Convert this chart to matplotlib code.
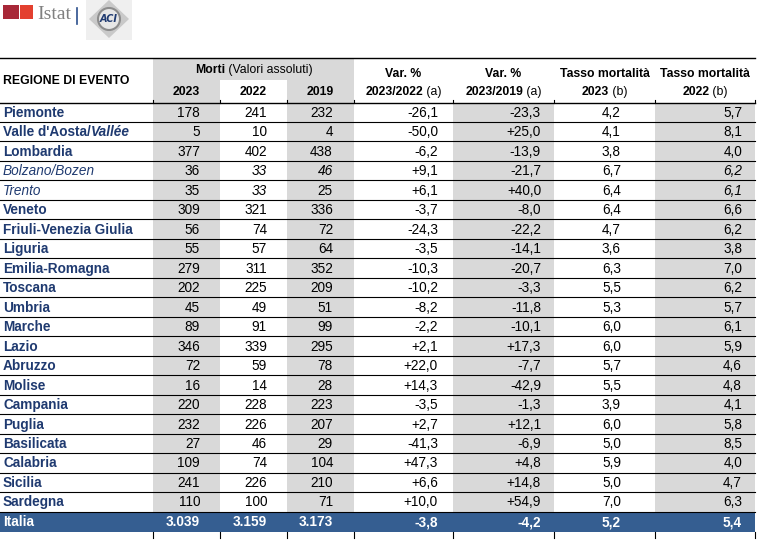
import matplotlib.pyplot as plt
from matplotlib.patches import Rectangle, Polygon, Circle

plt.rcParams['font.family'] = ['Liberation Sans Narrow', 'Liberation Sans', 'DejaVu Sans']

# dati
regioni = ['Piemonte', "Valle d'Aosta/Vallée", 'Lombardia', 'Bolzano/Bozen', 'Trento',
           'Veneto', 'Friuli-Venezia Giulia', 'Liguria', 'Emilia-Romagna', 'Toscana',
           'Umbria', 'Marche', 'Lazio', 'Abruzzo', 'Molise', 'Campania', 'Puglia',
           'Basilicata', 'Calabria', 'Sicilia', 'Sardegna']
morti_2023 = [178, 5, 377, 36, 35, 309, 56, 55, 279, 202, 45, 89, 346, 72, 16, 220, 232, 27, 109, 241, 110]
morti_2022 = [241, 10, 402, 33, 33, 321, 74, 57, 311, 225, 49, 91, 339, 59, 14, 228, 226, 46, 74, 226, 100]
morti_2019 = [232, 4, 438, 46, 25, 336, 72, 64, 352, 209, 51, 99, 295, 78, 28, 223, 207, 29, 104, 210, 71]
var_2022 = [-26.1, -50.0, -6.2, 9.1, 6.1, -3.7, -24.3, -3.5, -10.3, -10.2, -8.2, -2.2, 2.1, 22.0,
            14.3, -3.5, 2.7, -41.3, 47.3, 6.6, 10.0]
var_2019 = [-23.3, 25.0, -13.9, -21.7, 40.0, -8.0, -22.2, -14.1, -20.7, -3.3, -11.8, -10.1, 17.3,
            -7.7, -42.9, -1.3, 12.1, -6.9, 4.8, 14.8, 54.9]
tasso_2023 = [4.2, 4.1, 3.8, 6.7, 6.4, 6.4, 4.7, 3.6, 6.3, 5.5, 5.3, 6.0, 6.0, 5.7, 5.5, 3.9, 6.0,
              5.0, 5.9, 5.0, 7.0]
tasso_2022 = [5.7, 8.1, 4.0, 6.2, 6.1, 6.6, 6.2, 3.8, 7.0, 6.2, 5.7, 6.1, 5.9, 4.6, 4.8, 4.1, 5.8,
              8.5, 4.0, 4.7, 6.3]
italia = [3039, 3159, 3173, -3.8, -4.2, 5.2, 5.4]

def f_int(v):
    return f'{v:,}'.replace(',', '.')

def f_var(v):
    return f'{v:+.1f}'.replace('.', ',')

def f_dec(v):
    return f'{v:.1f}'.replace('.', ',')

fig = plt.figure(figsize=(7.73, 5.40), dpi=100)
ax = fig.add_axes([0, 0, 1, 1])
ax.set_xlim(0, 773)
ax.set_ylim(540, 0)
ax.axis('off')
r = fig.canvas.get_renderer()

FS = 9.8
FH = 8.8
blu = '#1F3A70'
grigio = '#D9D9D9'
col = [0, 153, 220, 287, 354, 453, 554, 655, 755]
pad = [20, 20, 21, 15, 13, 34, 13]
top, h_end, h_row = 58, 102.5, 19.48
n = len(regioni)
y_it = h_end + n * h_row
base = 4.6  # distanza centro riga -> linea di base

def rich(x, y, parts, ha='center', color='black', size=FS):
    tt = []
    for s, w, st in parts:
        tt.append(ax.text(0, y, s, fontsize=size, fontweight=w, fontstyle=st,
                          color=color, va='baseline', ha='left'))
    ws = [t.get_window_extent(r).width for t in tt]
    x0 = x - sum(ws) / 2 if ha == 'center' else x
    for t, w in zip(tt, ws):
        t.set_x(x0)
        x0 += w

# colonne grigie
for c in [1, 3]:
    ax.add_patch(Rectangle((col[c], top), col[c + 1] - col[c], y_it - top, color=grigio, lw=0))
ax.add_patch(Rectangle((col[2], top), col[3] - col[2], 22, color=grigio, lw=0))
for c in [5, 7]:
    ax.add_patch(Rectangle((col[c], h_end), col[c + 1] - col[c], y_it - h_end, color=grigio, lw=0))

# intestazione
rich(3, 84, [('REGIONE DI EVENTO', 'bold', 'normal')], ha='left', size=FH)
rich((col[1] + col[4]) / 2, 73, [('Morti', 'bold', 'normal'), (' (Valori assoluti)', 'normal', 'normal')], size=FH)
for c, anno in zip([1, 2, 3], ['2023', '2022', '2019']):
    rich((col[c] + col[c + 1]) / 2, 95, [(anno, 'bold', 'normal')], size=FH)
intest = [('Var. %', '2023/2022'), ('Var. %', '2023/2019'),
          ('Tasso mortalità', '2023'), ('Tasso mortalità', '2022')]
note = [' (a)', ' (a)', ' (b)', ' (b)']
for k, (l1, l2) in enumerate(intest):
    xc = (col[4 + k] + col[5 + k]) / 2
    rich(xc, 77, [(l1, 'bold', 'normal')], size=FH)
    rich(xc, 95, [(l2, 'bold', 'normal'), (note[k], 'normal', 'normal')], size=FH)

# righe
corsivo = {(3, 1), (3, 2), (3, 6), (4, 1), (4, 6)}
for i in range(n):
    y = h_end + (i + 0.5) * h_row + base
    if regioni[i].startswith('Valle'):
        rich(3, y, [("Valle d'Aosta/", 'bold', 'normal'), ('Vallée', 'bold', 'italic')], ha='left', color=blu)
    elif regioni[i] in ('Bolzano/Bozen', 'Trento'):
        rich(3, y, [(regioni[i], 'normal', 'italic')], ha='left', color=blu)
    else:
        rich(3, y, [(regioni[i], 'bold', 'normal')], ha='left', color=blu)
    vals = [f_int(morti_2023[i]), f_int(morti_2022[i]), f_int(morti_2019[i]),
            f_var(var_2022[i]), f_var(var_2019[i]), f_dec(tasso_2023[i]), f_dec(tasso_2022[i])]
    for k, s in enumerate(vals):
        st = 'italic' if (i, k) in corsivo else 'normal'
        ax.text(col[k + 2] - pad[k], y, s, fontsize=FS, fontstyle=st, ha='right', va='baseline')
    ax.plot([0, col[-1]], [h_end + (i + 1) * h_row] * 2, color='black', lw=0.8)

# riga Italia
ax.add_patch(Rectangle((0, y_it), col[-1], 20, color='#355E91', lw=0))
yc = y_it + 10 + base
ax.text(3, yc, 'Italia', fontsize=FS, fontweight='bold', color='white', va='baseline')
vals = [f_int(v) for v in italia[:3]] + [f'{v:.1f}'.replace('.', ',') for v in italia[3:]]
for k, s in enumerate(vals):
    ax.text(col[k + 2] - pad[k], yc, s, fontsize=FS, fontweight='bold', color='white',
            ha='right', va='baseline')
for xv in col[1:]:
    ax.plot([xv, xv], [y_it + 20, y_it + 26], color='black', lw=0.8)
    ax.plot([xv, xv], [h_end - 3, h_end], color='black', lw=0.8)

# linee orizzontali
ax.plot([0, col[-1]], [top, top], color='black', lw=1.0)
ax.plot([0, col[-1]], [h_end, h_end], color='black', lw=1.0)

# loghi
ax.add_patch(Rectangle((3, 5), 16, 14, color='#A82838', lw=0))
ax.add_patch(Rectangle((20, 5), 13, 14, color='#E3402F', lw=0))
ax.text(37, 19, 'Istat', fontsize=14, color='#808080', family='Liberation Serif', va='baseline')
ax.plot([77, 77], [8, 24], color='#2B4F8C', lw=1.2)
ax.add_patch(Rectangle((86, 0), 46, 40, color='#EFEFEF', lw=0))
ax.add_patch(Polygon([[109, 0], [129, 19], [109, 38], [89, 19]], closed=True, color='#C9C9C9', lw=0))
ax.add_patch(Circle((109, 19), 11, facecolor='#E6E6E6', edgecolor='#8C8C8C', lw=1.5))
ax.text(109, 19.5, 'ACI', fontsize=7, fontweight='bold', fontstyle='italic', color='#1F3A70',
        ha='center', va='center', family='DejaVu Sans')

fig.savefig('out.png', dpi=100)
